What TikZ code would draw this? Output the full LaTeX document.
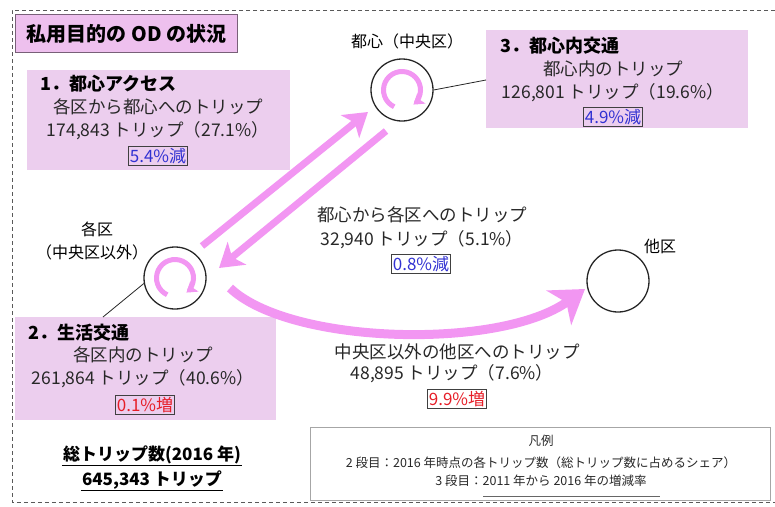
\documentclass[tikz,border=0pt]{standalone}
\usepackage{fontspec}
\setmainfont{Noto Sans CJK JP}
\usetikzlibrary{arrows.meta,calc}
\definecolor{boxpink}{RGB}{236,206,238}
\definecolor{titlepink}{RGB}{238,192,238}
\definecolor{titleborder}{RGB}{120,96,120}
\definecolor{arrowpink}{RGB}{242,150,242}
\definecolor{pctblue}{RGB}{50,50,210}
\definecolor{pctred}{RGB}{230,30,40}
\definecolor{txtgray}{RGB}{40,40,40}
\begin{document}
\begin{tikzpicture}[x=1pt,y=-1pt,
  pinkbox/.style={fill=boxpink, inner sep=0pt, anchor=north west},
  head/.style={font=\bfseries\fontsize{18}{20}\selectfont, anchor=west, inner sep=0pt},
  body/.style={font=\fontsize{17.5}{20}\selectfont, inner sep=0pt, text=txtgray},
  pctbox/.style={draw=black!75, line width=0.8pt, inner sep=1.5pt, font=\fontsize{17}{19}\selectfont},
  place/.style={draw=black!85, line width=1.3pt, circle, minimum size=62pt, inner sep=0pt},
  bigarrow/.style={draw=arrowpink, line width=7pt, -{Stealth[length=23pt,width=29pt,inset=6pt]}},
  looparrow/.style={draw=arrowpink, line width=5pt, -{Stealth[length=10pt,width=13pt,inset=2pt]}},
  link/.style={draw=black!85, line width=0.8pt},
  placelabel/.style={font=\fontsize{16}{18}\selectfont, inner sep=0pt},
  frame/.style={draw=black!65, line width=1pt, dash pattern=on 4pt off 3pt},
  legtext/.style={font=\fontsize{12.5}{14}\selectfont, inner sep=0pt, text=txtgray},
]
\useasboundingbox (0,0) rectangle (775,506);
% frame
\draw[frame] (775,10) -- (12,10) -- (12,502) -- (775,502);
% title
\node[draw=titleborder, fill=titlepink, line width=1.2pt, minimum width=222pt, minimum height=38pt,
      anchor=north west, inner sep=0pt, font=\bfseries\fontsize{20}{22}\selectfont] (title) at (15,14) {私用目的の OD の状況};
% box 1
\node[pinkbox, minimum width=263pt, minimum height=100pt] (b1) at (27,70) {};
\node[head] (h1) at (40,84) {1．都心アクセス};
\node[body] (l11) at (158,107) {各区から都心へのトリップ};
\node[body] (l12) at (158,131) {174,843 トリップ（27.1\%）};
\node[pctbox, text=pctblue] (p1) at (158,156) {5.4\%減};
% box 3
\node[pinkbox, minimum width=262pt, minimum height=98pt] (b3) at (486,30) {};
\node[head] (h3) at (500,46) {3．都心内交通};
\node[body] (l31) at (613,69) {都心内のトリップ};
\node[body] (l32) at (613,93) {126,801 トリップ（19.6\%）};
\node[pctbox, text=pctblue] (p3) at (613,117) {4.9\%減};
% box 2
\node[pinkbox, minimum width=261pt, minimum height=103pt] (b2) at (15,317) {};
\node[head] (h2) at (28,333) {2．生活交通};
\node[body] (l21) at (143,355) {各区内のトリップ};
\node[body] (l22) at (143,379) {261,864 トリップ（40.6\%）};
\node[pctbox, text=pctred] (p2) at (145,405) {0.1\%増};
% places
\node[place] (tc) at (402,90) {};
\node[place] (kc) at (175,278) {};
\node[place] (oc) at (618,281) {};
\node[placelabel] (tcl) at (407,41) {都心（中央区）};
\node[placelabel] (kcl1) at (97,229) {各区};
\node[placelabel] (kcl2) at (92,252) {（中央区以外）};
\node[placelabel] (ocl) at (660,246) {他区};
% loops
\draw[looparrow] (tc.center) ++(-245:18.5) arc[start angle=-245, end angle=52, radius=18.5];
\draw[looparrow] (kc.center) ++(-245:18.5) arc[start angle=-245, end angle=52, radius=18.5];
% links
\draw[link] (tc.east) -- ($(b3.north west)+(0,50)$);
\draw[link] (kc.190) -- ($(b2.north west)+(88,0)$);
% middle texts
\node[body] (m1) at (422,215) {都心から各区へのトリップ};
\node[body] (m2) at (422,240) {32,940 トリップ（5.1\%）};
\node[pctbox, text=pctblue] (pm) at (421,264) {0.8\%減};
\node[body] (o1) at (457,352) {中央区以外の他区へのトリップ};
\node[body] (o2) at (452,374) {48,895 トリップ（7.6\%）};
\node[pctbox, text=pctred] (po) at (457,399) {9.9\%増};
% arrows
\coordinate (a1s) at (202,246);
\coordinate (a1e) at (368,112);
\coordinate (a2s) at (386,131);
\coordinate (a2e) at (219,268);
\coordinate (a3s) at (230,288);
\coordinate (a3e) at (585,289);
\draw[bigarrow] (a1s) -- (a1e);
\draw[bigarrow] (a2s) -- (a2e);
\draw[bigarrow, line width=9pt, -{Stealth[length=32pt,width=42pt,inset=9pt]}] (a3s) .. controls (290,345) and (500,350) .. (a3e);
% totals
\node[font=\bfseries\fontsize{17}{19}\selectfont, inner sep=1pt] (t1) at (152,455) {総トリップ数(2016 年)};
\node[font=\bfseries\fontsize{17}{19}\selectfont, inner sep=1pt] (t2) at (152,480) {645,343 トリップ};
\draw[line width=1.6pt] (t1.south west) -- (t1.south east);
\draw[line width=1.6pt] (t2.south west) -- (t2.south east);
% legend
\node[draw=black!35, line width=0.8pt, minimum width=460pt, minimum height=73pt, anchor=north west, inner sep=0pt] (leg) at (310,427) {};
\node[legtext] (lg0) at (541,441) {凡例};
\node[legtext] (lg1) at (541,463) {2 段目：2016 年時点の各トリップ数（総トリップ数に占めるシェア）};
\node[legtext] (lg2) at (541,481) {3 段目：2011 年から 2016 年の増減率};
\coordinate (u1) at (483,496);
\coordinate (u2) at (660,496);
\draw[draw=black!60, line width=0.8pt] (u1) -- (u2);
\end{tikzpicture}
\end{document}
